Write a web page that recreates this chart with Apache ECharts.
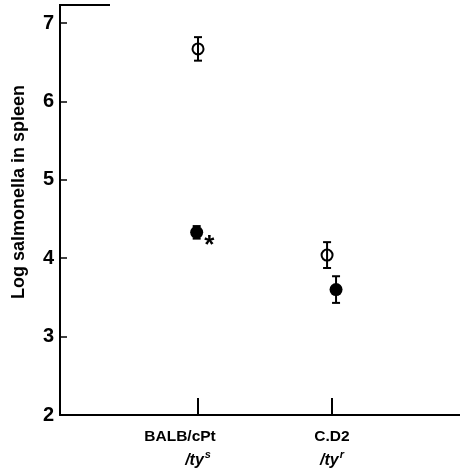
<!DOCTYPE html>
<html>
<head>
<meta charset="utf-8">
<script src="https://cdn.jsdelivr.net/npm/echarts@6/dist/echarts.min.js"></script>
<style>html,body{margin:0;padding:0;background:#fff}#c{width:460px;height:474px}</style>
</head>
<body>
<div id="c"></div>
<script>
// ---- data ----
var categories = ['BALB/cPt', 'C.D2'];
var categorySup = ['s', 'r'];
var categoryX = [1, 2];
var yTicks = [2, 3, 4, 5, 6, 7];
// open circles
var openX = [1.0, 1.963];
var openMean = [6.67, 4.04];
var openErr = [0.15, 0.165];
// filled circles
var filledX = [0.99, 2.03];
var filledMean = [4.33, 3.60];
var filledErr = [0.08, 0.17];
var filledNote = ['*', ''];

var FONT = '"Liberation Sans", Arial, sans-serif';

function errSeries(xs, means, errs) {
  var data = xs.map(function (x, i) { return [x, means[i] - errs[i], means[i] + errs[i]]; });
  return {
    type: 'custom',
    silent: true,
    z: 1,
    data: data,
    renderItem: function (params, api) {
      var lo = api.coord([api.value(0), api.value(1)]);
      var hi = api.coord([api.value(0), api.value(2)]);
      var cw = 4;
      var st = { stroke: '#000', lineWidth: 2 };
      return {
        type: 'group',
        children: [
          { type: 'line', shape: { x1: lo[0], y1: lo[1], x2: hi[0], y2: hi[1] }, style: st },
          { type: 'line', shape: { x1: lo[0] - cw, y1: lo[1], x2: lo[0] + cw, y2: lo[1] }, style: st },
          { type: 'line', shape: { x1: hi[0] - cw, y1: hi[1], x2: hi[0] + cw, y2: hi[1] }, style: st }
        ]
      };
    }
  };
}

var chart = echarts.init(document.getElementById('c'));
chart.setOption({
  backgroundColor: '#fff',
  animation: false,
  grid: { left: 60, right: 0, top: 5, bottom: 59 },
  graphic: [
    { type: 'line', shape: { x1: 59, y1: 5, x2: 110, y2: 5 }, style: { stroke: '#000', lineWidth: 2 } }
  ],
  xAxis: {
    type: 'value',
    min: -0.03,
    max: 2.955,
    splitLine: { show: false },
    axisLine: { show: true, onZero: false, lineStyle: { color: '#000', width: 2 } },
    axisTick: { show: true, inside: true, length: 17, customValues: categoryX, lineStyle: { color: '#000', width: 2 } },
    axisLabel: {
      customValues: categoryX,
      margin: 10,
      lineHeight: 24,
      formatter: function (v) {
        var i = categoryX.indexOf(v);
        if (i < 0) return '';
        var a = i === 0 ? 'a0' : 'a1';
        return '{' + a + '|' + categories[i] + '}\n{b|/ty}{c|' + categorySup[i] + '}';
      },
      rich: {
        a0: { fontFamily: FONT, fontWeight: 'bold', fontSize: 15.5, color: '#000', padding: [0, 36, 0, 0] },
        a1: { fontFamily: FONT, fontWeight: 'bold', fontSize: 15.5, color: '#000' },
        b: { fontFamily: FONT, fontWeight: 'bold', fontStyle: 'italic', fontSize: 16, color: '#000' },
        c: { fontFamily: FONT, fontWeight: 'bold', fontStyle: 'italic', fontSize: 11, color: '#000', verticalAlign: 'top', padding: [0, 0, 6, 1] }
      }
    }
  },
  yAxis: {
    type: 'value',
    min: 2,
    max: 7.23,
    name: 'Log salmonella in spleen',
    nameLocation: 'middle',
    nameGap: 32,
    nameTextStyle: { fontFamily: FONT, fontWeight: 'bold', fontSize: 18, color: '#000', padding: [0, 0, 0, 36] },
    splitLine: { show: false },
    axisLine: { show: true, onZero: false, lineStyle: { color: '#000', width: 2 } },
    axisTick: { show: true, inside: true, length: 7, customValues: yTicks, lineStyle: { color: '#000', width: 1.5 } },
    axisLabel: {
      customValues: yTicks,
      margin: 6,
      fontFamily: FONT, fontWeight: 'bold', fontSize: 20, color: '#000',
      formatter: function (v) { return yTicks.indexOf(v) >= 0 ? String(v) : ''; }
    }
  },
  series: [
    errSeries(openX, openMean, openErr),
    errSeries(filledX, filledMean, filledErr),
    {
      type: 'scatter',
      z: 3,
      symbol: 'circle',
      symbolSize: 11,
      itemStyle: { color: 'rgba(0,0,0,0)', borderColor: '#000', borderWidth: 2, opacity: 1 },
      data: openX.map(function (x, i) { return [x, openMean[i]]; })
    },
    {
      type: 'scatter',
      z: 3,
      symbol: 'circle',
      symbolSize: 13,
      itemStyle: { color: '#000', opacity: 1 },
      label: {
        show: true,
        position: 'right',
        offset: [-4, 13],
        fontFamily: FONT, fontWeight: 'bold', fontSize: 26, color: '#000',
        formatter: function (p) { return filledNote[p.dataIndex]; }
      },
      data: filledX.map(function (x, i) { return [x, filledMean[i]]; })
    }
  ]
});
</script>
</body>
</html>
